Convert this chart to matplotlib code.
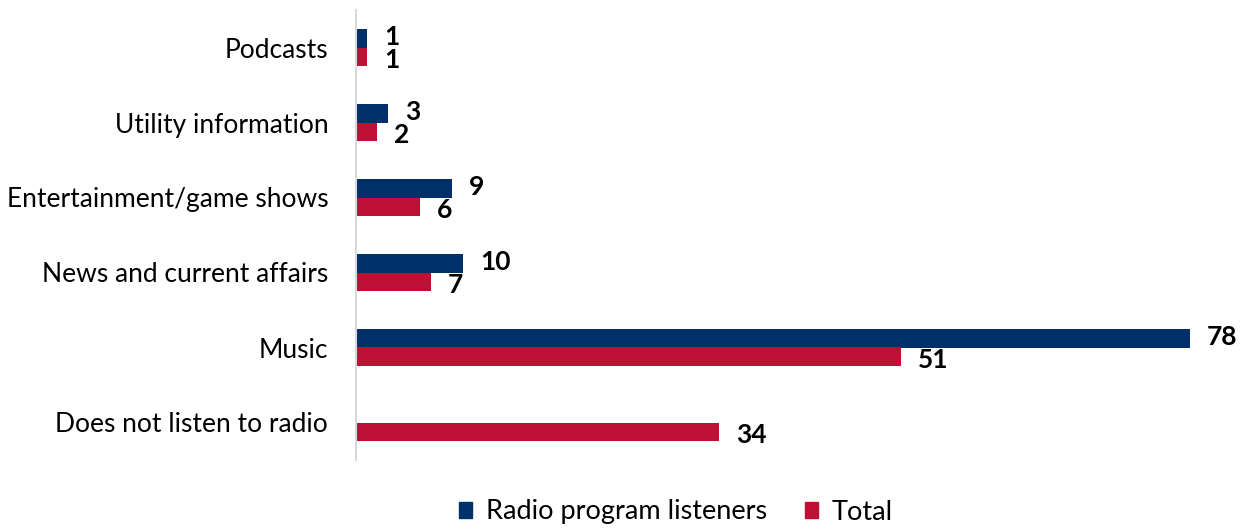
import matplotlib.pyplot as plt
import numpy as np

plt.rcParams['font.family'] = ['Lato', 'DejaVu Sans']

categories = ['Podcasts', 'Utility information', 'Entertainment/game shows',
              'News and current affairs', 'Music', 'Does not listen to radio']
listeners = [1, 3, 9, 10, 78, None]
total = [1, 2, 6, 7, 51, 34]

blue = '#003069'
red = '#BE0F34'

fig = plt.figure(figsize=(12.42, 5.29), dpi=100)
ax = fig.add_axes([356 / 1242, 1 - 460 / 529, 1 - 356 / 1242, 450 / 529])

y = np.arange(len(categories))
h = 0.245

for i, (b, r) in enumerate(zip(listeners, total)):
    if b is not None:
        ax.barh(y[i] - h / 2, b, height=h, color=blue)
        ax.text(b + 1.6, y[i] - h / 2 - 0.02, str(b), va='center', ha='left',
                fontsize=19, fontweight='bold')
    ax.barh(y[i] + h / 2, r, height=h, color=red)
    ax.text(r + 1.6, y[i] + h / 2 + 0.05, str(r), va='center', ha='left',
            fontsize=19, fontweight='bold')

ax.set_ylim(len(categories) - 0.5, -0.5)
ax.set_xlim(0, 82.9)
ax.set_yticks(y)
ax.set_yticklabels(categories, fontsize=19, va='center_baseline')
ax.tick_params(axis='y', length=0, pad=20)
ax.set_xticks([])
for s in ['top', 'right', 'bottom']:
    ax.spines[s].set_visible(False)
ax.spines['left'].set_color('#d9d9d9')
ax.spines['left'].set_linewidth(1.5)

handles = [plt.Rectangle((0, 0), 1, 1, color=blue),
           plt.Rectangle((0, 0), 1, 1, color=red)]
fig.legend(handles, ['Radio program listeners', 'Total'], loc='center',
           bbox_to_anchor=(676 / 1242, 1 - 512 / 529), ncol=2, frameon=False,
           fontsize=19.5, handlelength=0.5, handleheight=0.5, handletextpad=0.5,
           columnspacing=1.4)

fig.savefig('out.png', dpi=100)
